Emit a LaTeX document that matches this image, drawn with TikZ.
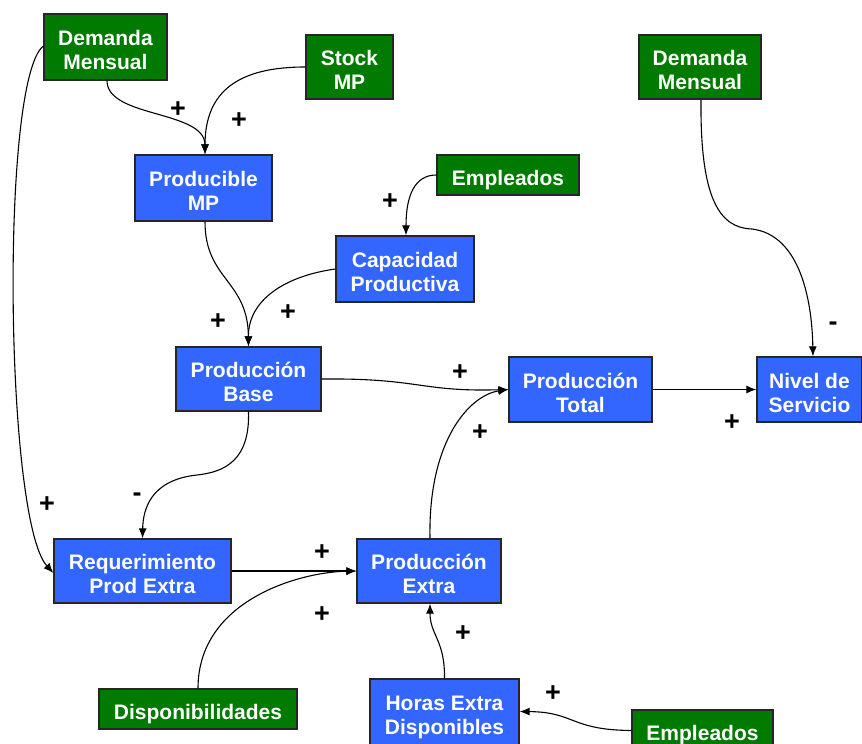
\documentclass[tikz,border=0pt]{standalone}
\usepackage{fontspec}
\setmainfont{Liberation Sans}
\usetikzlibrary{arrows.meta}
\definecolor{vgreen}{RGB}{0,122,0}
\definecolor{vblue}{RGB}{51,102,255}
\begin{document}
\begin{tikzpicture}[x=1pt,y=-1pt,
  box/.style={draw=black!85,line width=1.3pt,text=white,
    font=\fontsize{21}{24}\selectfont\bfseries,align=center,inner sep=0pt,
    execute at end node={\rule[-6pt]{0pt}{6pt}}},
  twoline/.style={box,execute at begin node={\rule{0pt}{51pt}}},
  oneline/.style={box,execute at begin node={\rule{0pt}{27pt}}},
  ext/.style={twoline,fill=vgreen},
  extone/.style={oneline,fill=vgreen},
  var/.style={twoline,fill=vblue},
  link/.style={line width=1.1pt,-{Latex[length=10pt,width=8pt]}},
  sgn/.style={font=\fontsize{27}{27}\selectfont\bfseries,inner sep=0pt}]
\useasboundingbox (0,0) rectangle (862,744);

% exogenous inputs
\node[ext,minimum width=123pt,minimum height=66pt] (dma) at (105.5,47) {Demanda\\Mensual};
\node[ext,minimum width=87pt,minimum height=64pt] (stock) at (349.5,67) {Stock\\MP};
\node[extone,minimum width=142pt,minimum height=40pt] (empa) at (508,175) {Empleados};
\node[ext,minimum width=122pt,minimum height=64pt] (dmb) at (700,67) {Demanda\\Mensual};
\node[extone,minimum width=198pt,minimum height=40pt] (disp) at (198,709) {Disponibilidades};
\node[extone,minimum width=141pt,minimum height=40pt] (empb) at (702.5,730) {Empleados};

% model variables
\node[var,minimum width=137pt,minimum height=66pt] (pmp) at (203.5,188) {Producible\\MP};
\node[var,minimum width=138pt,minimum height=66pt] (cap) at (405,269) {Capacidad\\Productiva};
\node[var,minimum width=145pt,minimum height=64pt] (pb) at (248.5,379) {Producción\\Base};
\node[var,minimum width=143pt,minimum height=65pt] (pt) at (580.5,389.5) {Producción\\Total};
\node[var,minimum width=105pt,minimum height=65pt] (ns) at (809.5,389.5) {Nivel de\\Servicio};
\node[var,minimum width=177pt,minimum height=64pt] (req) at (142.5,571) {Requerimiento\\Prod Extra};
\node[var,minimum width=144pt,minimum height=64pt] (pe) at (429,571) {Producción\\Extra};
\node[var,minimum width=149pt,minimum height=66pt] (he) at (444.5,712) {Horas Extra\\Disponibles};

% causal links
\draw[link] ([xshift=1.5pt]dma.south) .. controls (107,118) and (205,110) .. ([xshift=1.5pt]pmp.north);
\draw[link] (stock.west) .. controls (240,67) and (205,90) .. ([xshift=1.5pt]pmp.north);
\draw[link] ([yshift=1pt]dma.west) .. controls (0,80) and (5,520) .. ([yshift=-2pt]req.west);
\draw[link] ([xshift=1.5pt]pmp.south) .. controls (205,280) and (248,280) .. (pb.north);
\draw[link] (empa.west) .. controls (415,175) and (406,195) .. ([xshift=1pt]cap.north);
\draw[link] (cap.west) .. controls (285,276) and (248,300) .. (pb.north);
\draw[link] (pb.east) .. controls (420,378) and (420,392) .. (pt.west);
\draw[link] ([xshift=1pt]pe.north) .. controls (428,440) and (470,395) .. (pt.west);
\draw[link] (pt.east) -- (ns.west);
\draw[link] ([xshift=1pt]dmb.south) .. controls (700,200) and (720,228) .. (752,229)
  .. controls (800,235) and (812,300) .. ([xshift=3.5pt]ns.north);
\draw[link] (pb.south) .. controls (250,460) and (225,472) .. (197,475)
  .. controls (150,480) and (143,510) .. (req.north);
\draw[link] (req.east) -- (pe.west);
\draw[link] (disp.north) .. controls (198,600) and (300,572) .. (pe.west);
\draw[link] (he.north) .. controls (445,640) and (430,635) .. ([xshift=1pt]pe.south);
\draw[link] ([yshift=-0.5pt]empb.west) .. controls (570,730) and (575,712) .. ([yshift=0.5pt]he.east);

% polarities
\node[sgn] (s1) at (178,110) {+};
\node[sgn] (s2) at (239,121) {+};
\node[sgn] (s3) at (390,202) {+};
\node[sgn] (s4) at (218,322) {+};
\node[sgn] (s5) at (288,313) {+};
\node[sgn] (s6) at (460,373) {+};
\node[sgn] (s7) at (480,433) {+};
\node[sgn] (s8) at (732,423) {+};
\node[sgn] (s9) at (833,326) {-};
\node[sgn] (s10) at (137,497) {-};
\node[sgn] (s11) at (47,505) {+};
\node[sgn] (s12) at (322,553) {+};
\node[sgn] (s13) at (322,615) {+};
\node[sgn] (s14) at (463,634) {+};
\node[sgn] (s15) at (553,694) {+};
\end{tikzpicture}
\end{document}
